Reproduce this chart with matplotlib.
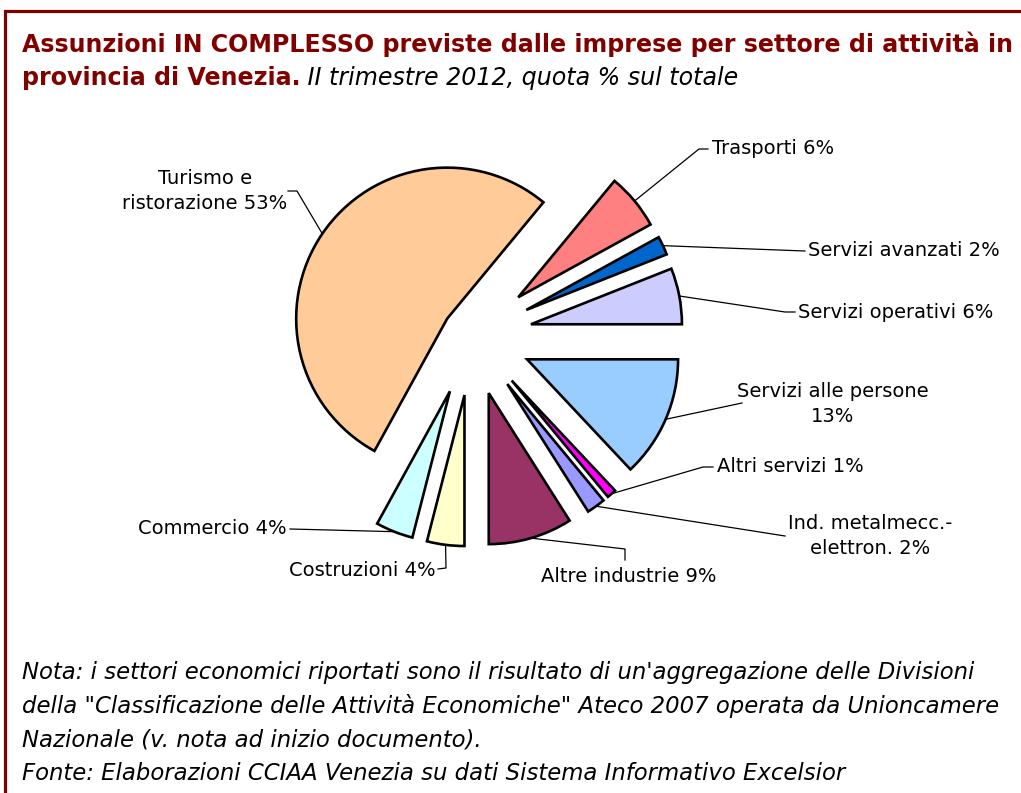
import matplotlib
matplotlib.use("Agg")
import matplotlib.pyplot as plt
import numpy as np
from matplotlib.patches import Rectangle

# dati (quota % sul totale), nell'ordine del grafico originale
settori = ["Ind. metalmecc.-\nelettron.", "Altre industrie", "Costruzioni", "Commercio",
           "Turismo e\nristorazione", "Trasporti", "Servizi avanzati",
           "Servizi operativi", "Servizi alle persone", "Altri servizi"]
quote = [2, 9, 4, 4, 53, 6, 2, 6, 13, 1]
colori = ["#9999FF", "#993366", "#FFFFCC", "#CCFFFF", "#FFCC99",
          "#FF8080", "#0066CC", "#CCCCFF", "#99CCFF", "#FF00FF"]

W, H = 1021, 793
ROSSO = "#800000"
plt.rcParams['font.family'] = ['DejaVu Sans']

fig = plt.figure(figsize=(W / 100, H / 100), dpi=100)
ax = fig.add_axes([0, 0, 1, 1])

# torta esplosa (coordinate in pixel, y verso l'alto)
esplosione = [60, 60, 60, 60, 30, 60, 60, 60, 60, 60]
wedges, _ = ax.pie(quote, colors=colori, startangle=-50.4, counterclock=False,
                   explode=esplosione, radius=151, center=(472, H - 335.5),
                   wedgeprops=dict(edgecolor="black", linewidth=1.9))

ax.set_xlim(0, W)
ax.set_ylim(0, H)
ax.set_aspect("auto")
ax.axis("off")

# etichette: (posizione testo, allineamento, punti della linea guida, separatore)
etichette = [
    ((870, 536), "center", [(785, 536)], " "),
    ((541, 577), "left", [(625, 549), (625, 560)], " "),
    ((436, 570), "right", [(446, 568), (438, 569)], " "),
    ((287, 529), "right", [(290, 529)], " "),
    ((205, 191), "center", [(297, 191), (288, 191)], " "),
    ((712, 149), "left", [(699, 149), (708, 149)], " "),
    ((808, 251), "left", [(805, 251)], " "),
    ((798, 313), "left", [(785, 312), (795, 312)], " "),
    ((833, 404), "center", [(742, 403)], "\n"),
    ((717, 467), "left", [(703, 467), (713, 467)], " "),
]

for w, nome, q, (pos, ha, punti, sep) in zip(wedges, settori, quote, etichette):
    tm = np.deg2rad((w.theta1 + w.theta2) / 2)
    cx, cy = w.center
    xs = [cx + w.r * np.cos(tm)] + [p[0] for p in punti]
    ys = [cy + w.r * np.sin(tm)] + [H - p[1] for p in punti]
    ax.plot(xs, ys, color="black", lw=0.9)
    ax.text(pos[0], H - pos[1], f"{nome}{sep}{q}%", ha=ha, va="center",
            fontsize=14, multialignment="center", linespacing=1.35)

# titolo
ax.text(22, H - 44, "Assunzioni IN COMPLESSO previste dalle imprese per settore di attività in",
        fontsize=17.1, fontweight="bold", color=ROSSO, va="center")
t2 = ax.text(22, H - 78, "provincia di Venezia.", fontsize=17.1, fontweight="bold",
             color=ROSSO, va="center")
ax.annotate(" II trimestre 2012, quota % sul totale", xy=(1, 0), xycoords=t2,
            va="bottom", ha="left", fontsize=17.1, style="italic", color="black")

# note
note = ["Nota: i settori economici riportati sono il risultato di un'aggregazione delle Divisioni",
        "della \"Classificazione delle Attività Economiche\" Ateco 2007 operata da Unioncamere",
        "Nazionale (v. nota ad inizio documento).",
        "Fonte: Elaborazioni CCIAA Venezia su dati Sistema Informativo Excelsior"]
for i, riga in enumerate(note):
    ax.text(22, H - (672 + 34 * i), riga, fontsize=16.4, style="italic", va="center")

# cornice
ax.add_patch(Rectangle((4.7, -20), 1100, H - 10.7 + 20, fill=False,
                       edgecolor=ROSSO, lw=2.3, clip_on=False))

fig.savefig("out.png", dpi=100)
